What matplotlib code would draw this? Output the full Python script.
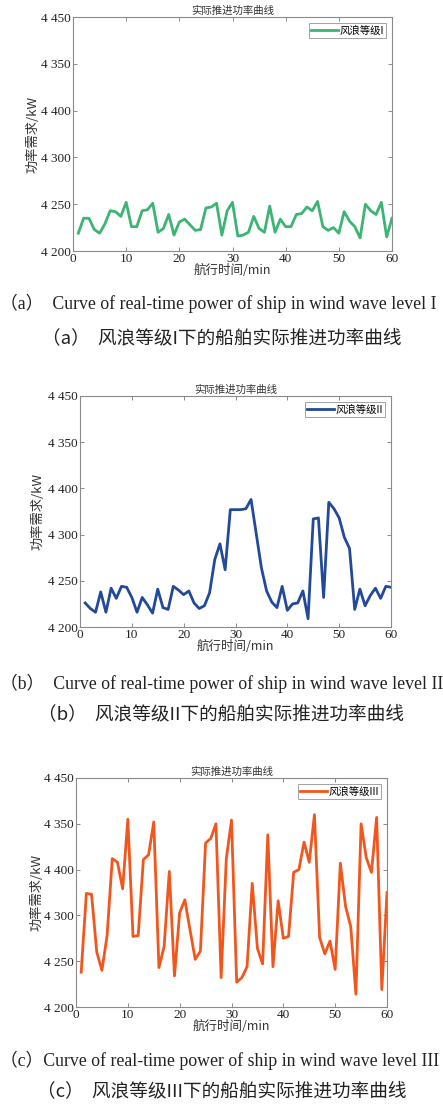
import matplotlib

matplotlib.use("Agg")
import matplotlib.pyplot as plt

# sailing time, one sample per minute
minutes = list(range(1, 61))

# propulsion power demand (kW) per wind-wave level
power_lv1 = [4219, 4235, 4235, 4223, 4219, 4229, 4243, 4242, 4237, 4252,
             4226, 4226, 4243, 4244, 4251, 4220, 4224, 4239, 4217, 4231,
             4234, 4228, 4222, 4223, 4246, 4247, 4251, 4217, 4243, 4252,
             4216, 4217, 4220, 4237, 4224, 4220, 4248, 4220, 4234, 4226,
             4226, 4239, 4240, 4247, 4243, 4253, 4226, 4222, 4225, 4219,
             4242, 4232, 4226, 4214, 4250, 4243, 4239, 4252, 4215, 4235]
power_lv2 = [4226, 4220, 4216, 4238, 4216, 4242, 4231, 4244, 4243, 4232,
             4216, 4232, 4224, 4215, 4241, 4221, 4219, 4244, 4240, 4235,
             4239, 4226, 4220, 4223, 4237, 4273, 4290, 4262, 4327, 4327,
             4327, 4328, 4338, 4301, 4264, 4239, 4227, 4221, 4244, 4218,
             4225, 4226, 4239, 4209, 4317, 4318, 4232, 4335, 4328, 4318,
             4297, 4285, 4219, 4241, 4223, 4234, 4242, 4231, 4244, 4243]
power_lv3 = [4238, 4324, 4323, 4260, 4240, 4278, 4362, 4358, 4329, 4405,
             4277, 4278, 4361, 4366, 4402, 4243, 4266, 4348, 4234, 4303,
             4317, 4284, 4252, 4261, 4379, 4384, 4400, 4232, 4362, 4404,
             4227, 4232, 4244, 4335, 4264, 4247, 4388, 4244, 4316, 4275,
             4277, 4347, 4350, 4380, 4358, 4410, 4276, 4258, 4272, 4241,
             4357, 4310, 4288, 4214, 4400, 4363, 4347, 4407, 4219, 4325]

ytick_vals = [4200, 4250, 4300, 4350, 4400, 4450]
ytick_text = ["4 200", "4 250", "4 300", "4 400", "4 350", "4 450"]
xtick_vals = [0, 10, 20, 30, 40, 50, 60]

legend_names = ["风浪等级I", "风浪等级II", "风浪等级III"]
captions_en = [
    "（a）  Curve of real-time power of ship in wind wave level I",
    "（b）  Curve of real-time power of ship in wind wave level II",
    "（c）Curve of real-time power of ship in wind wave level III",
]
captions_zh = [
    "（a）  风浪等级I下的船舶实际推进功率曲线",
    "（b）  风浪等级II下的船舶实际推进功率曲线",
    "（c）  风浪等级III下的船舶实际推进功率曲线",
]

SERIF = ["Liberation Serif", "Noto Sans CJK SC"]
CJK = ["Noto Sans CJK SC", "Liberation Serif"]
plt.rcParams["font.family"] = SERIF

W, H = 443, 1108
fig = plt.figure(figsize=(W / 100, H / 100), dpi=100)


def px_axes(x0, y0, x1, y1):
    return fig.add_axes([x0 / W, 1 - y1 / H, (x1 - x0) / W, (y1 - y0) / H])


panels = [
    # axes box (px), line colour, data, index, caption rows (px), ylabel x
    ((73, 17, 392, 251), "#3cb474", power_lv1, 0, 303, 338, 0, -0.105),
    ((80, 396, 391, 627), "#22499a", power_lv2, 1, 683, 714, 0, -0.113),
    ((76, 778, 387, 1007), "#f2561d", power_lv3, 2, 1060, 1091, 0, -0.106),
]

for box, color, series, i, y_en, y_zh, x_en, ylab_x in panels:
    ax = px_axes(*box)
    ax.plot(minutes, series, color=color, linewidth=2.0, label=legend_names[i])
    ax.set_xlim(0, 60)
    ax.set_ylim(4200, 4450)
    ax.set_xticks(xtick_vals)
    ax.set_yticks(ytick_vals)
    ax.set_yticklabels(ytick_text)
    ax.tick_params(direction="in", length=3, width=0.6, color="#777777",
                   top=True, right=True, labelsize=9.5, pad=1.5,
                   labelcolor="#222222")
    for sp in ax.spines.values():
        sp.set_color("#8a8a8a")
        sp.set_linewidth(0.8)
    ax.set_title("实际推进功率曲线", fontsize=7.5, family=CJK, pad=2,
                 color="#333333")
    ax.set_xlabel("航行时间/min", fontsize=9, family=CJK, labelpad=-1,
                  color="#333333")
    ax.set_ylabel("功率需求/kW", fontsize=9.5, family=CJK, color="#333333")
    ax.yaxis.set_label_coords(ylab_x, 0.5)
    leg = ax.legend(loc="upper right", prop={"family": CJK, "size": 7.5},
                    frameon=True, fancybox=False, borderpad=0.2, handlelength=2.6,
                    handletextpad=0.1, borderaxespad=0.6)
    leg.get_frame().set_edgecolor("#8a8a8a")
    leg.get_frame().set_linewidth(0.7)

    fig.text(x_en / W, 1 - y_en / H, captions_en[i], fontsize=12.8,
             family=SERIF, ha="left", va="center", color="#222222")
    fig.text(0.5, 1 - y_zh / H, captions_zh[i], fontsize=13.4,
             family=CJK, ha="center", va="center", color="#222222")

fig.savefig("out.png", dpi=100)
